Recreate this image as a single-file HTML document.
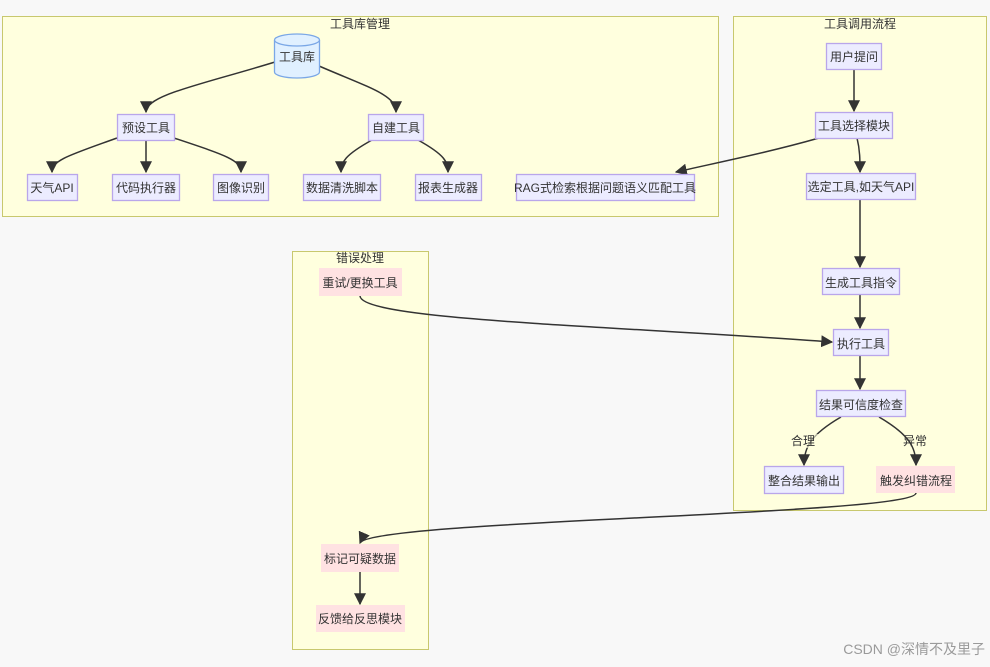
<!DOCTYPE html>
<html><head><meta charset="utf-8"><style>
html,body{margin:0;padding:0;background:#f8f8f8;}
svg{display:block;font-family:"Liberation Sans","Noto Sans CJK SC",sans-serif;}
.sg{fill:#ffffde;stroke:#c8c86e;stroke-width:1;}
.n{fill:#ececff;stroke:#b9a6ea;stroke-width:1.3;}
.p{fill:#ffe2e2;stroke:none;}
.t{font-size:12px;fill:#333;text-anchor:middle;dominant-baseline:central;}
.st{font-size:12px;fill:#333;text-anchor:middle;dominant-baseline:central;}
.e{fill:none;stroke:#333;stroke-width:1.5;}
</style></head><body>
<svg width="990" height="667" viewBox="0 0 990 667">
<defs><marker id="a" viewBox="0 0 10 10" refX="9" refY="5" markerWidth="8" markerHeight="8" orient="auto"><path d="M0,0L10,5L0,10z" fill="#333"/></marker></defs>
<rect class="sg" x="2.5" y="16.5" width="716" height="200"/>
<rect class="sg" x="733.5" y="16.5" width="253" height="494"/>
<rect class="sg" x="292.5" y="251.5" width="136" height="398"/>
<text class="st" x="360" y="24">工具库管理</text>
<text class="st" x="860" y="24">工具调用流程</text>
<text class="st" x="360" y="258">错误处理</text>

<path class="e" marker-end="url(#a)" d="M275,62 C200,85 146,95 146,112"/>
<path class="e" marker-end="url(#a)" d="M319,66 C370,88 396,95 396,112"/>
<path class="e" marker-end="url(#a)" d="M117,138 C70,155 52,160 52,172"/>
<path class="e" marker-end="url(#a)" d="M146,140 L146,172"/>
<path class="e" marker-end="url(#a)" d="M174,138 C225,155 241,160 241,172"/>
<path class="e" marker-end="url(#a)" d="M372,140 C345,155 341,162 341,172"/>
<path class="e" marker-end="url(#a)" d="M418,140 C445,155 448,162 448,172"/>
<path class="e" marker-end="url(#a)" d="M819,138 C770,152 720,162 676,172"/>
<path class="e" marker-end="url(#a)" d="M854,69 L854,111"/>
<path class="e" marker-end="url(#a)" d="M857,138 C860,150 860,160 860,172"/>
<path class="e" marker-end="url(#a)" d="M860,199 L860,267"/>
<path class="e" marker-end="url(#a)" d="M860,295 L860,328"/>
<path class="e" marker-end="url(#a)" d="M860,356 L860,389"/>
<path class="e" marker-end="url(#a)" d="M841,417 C810,435 804,448 804,465"/>
<path class="e" marker-end="url(#a)" d="M879,417 C910,435 916,448 916,465"/>
<path class="e" marker-end="url(#a)" d="M916,493 C916,515 370,520 360,543"/>
<path class="e" marker-end="url(#a)" d="M360,296 C362,320 600,325 832,342"/>
<path class="e" marker-end="url(#a)" d="M360,572 L360,604"/>
<rect x="789" y="434" width="30" height="14" fill="#ffffde" opacity="0.6"/>
<text class="t" x="803" y="441">合理</text>
<text class="t" x="915" y="441">异常</text>

<path d="M274.5,40 L274.5,72 A22.5,6 0 0 0 319.5,72 L319.5,40" fill="#e0f0ff" stroke="#7aa7e6" stroke-width="1.3"/>
<ellipse cx="297" cy="40" rx="22.5" ry="6" fill="#e0f0ff" stroke="#7aa7e6" stroke-width="1.3"/>
<text class="t" x="297" y="57">工具库</text>

<rect class="n" x="117.5" y="114.5" width="57" height="26"/><text class="t" x="146" y="128">预设工具</text>
<rect class="n" x="368.5" y="114.5" width="55" height="26"/><text class="t" x="396" y="128">自建工具</text>
<rect class="n" x="27.5" y="174.5" width="50" height="26"/><text class="t" x="52" y="188">天气API</text>
<rect class="n" x="112.5" y="174.5" width="67" height="26"/><text class="t" x="146" y="188">代码执行器</text>
<rect class="n" x="213.5" y="174.5" width="55" height="26"/><text class="t" x="241" y="188">图像识别</text>
<rect class="n" x="303.5" y="174.5" width="77" height="26"/><text class="t" x="342" y="188">数据清洗脚本</text>
<rect class="n" x="415.5" y="174.5" width="66" height="26"/><text class="t" x="448" y="188">报表生成器</text>
<rect class="n" x="516.5" y="174.5" width="178" height="26"/><text class="t" x="605" y="188">RAG式检索根据问题语义匹配工具</text>

<rect class="n" x="826.5" y="43.5" width="55" height="26"/><text class="t" x="854" y="57">用户提问</text>
<rect class="n" x="815.5" y="112.5" width="77" height="26"/><text class="t" x="854" y="126">工具选择模块</text>
<rect class="n" x="806.5" y="173.5" width="109" height="26"/><text class="t" x="861" y="187">选定工具,如天气API</text>
<rect class="n" x="822.5" y="268.5" width="77" height="26"/><text class="t" x="861" y="283">生成工具指令</text>
<rect class="n" x="833.5" y="329.5" width="55" height="26"/><text class="t" x="861" y="344">执行工具</text>
<rect class="n" x="816.5" y="390.5" width="89" height="26"/><text class="t" x="861" y="405">结果可信度检查</text>
<rect class="n" x="764.5" y="466.5" width="79" height="27"/><text class="t" x="804" y="481">整合结果输出</text>
<rect class="p" x="876" y="466" width="79" height="27"/><text class="t" x="916" y="481">触发纠错流程</text>

<rect class="p" x="319" y="268" width="83" height="28"/><text class="t" x="360" y="283">重试/更换工具</text>
<rect class="p" x="321" y="544" width="78" height="28"/><text class="t" x="360" y="559">标记可疑数据</text>
<rect class="p" x="316" y="605" width="89" height="27"/><text class="t" x="360" y="619">反馈给反思模块</text>

<text x="985" y="654" font-size="14" fill="#8a8a8a" text-anchor="end" opacity="0.85">CSDN @深情不及里子</text>
</svg>
</body></html>
